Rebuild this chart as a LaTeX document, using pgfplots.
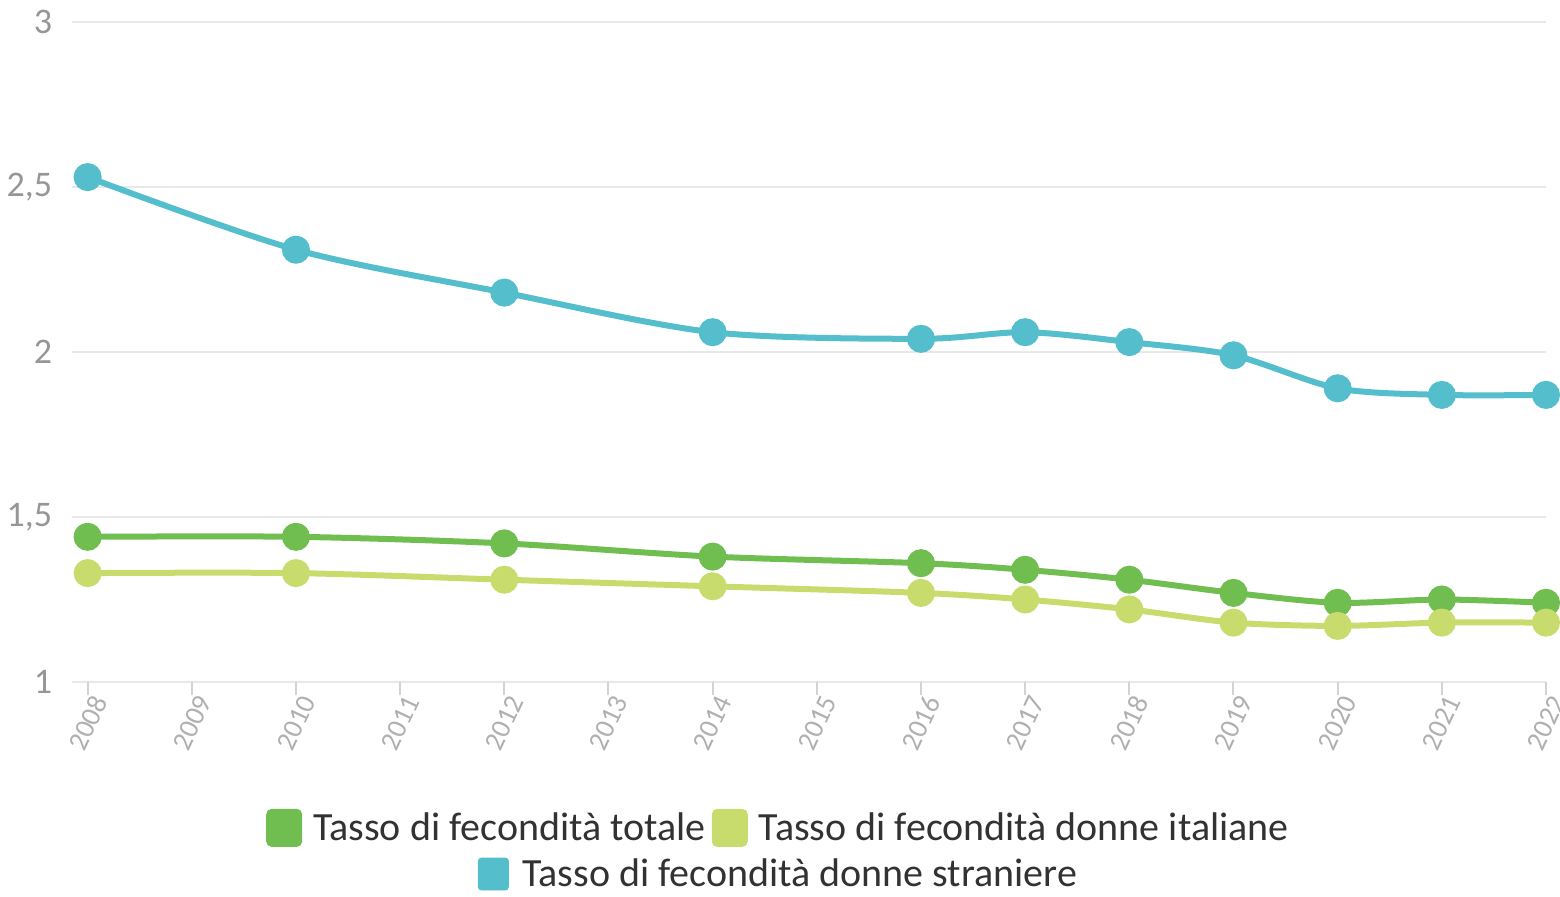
\documentclass[border=0pt]{standalone}
\usepackage{pgfplots}
\pgfplotsset{compat=1.18}
\usepackage{fontspec}
\setmainfont{Carlito}
\definecolor{teal1}{RGB}{84,190,204}
\definecolor{green1}{RGB}{112,190,80}
\definecolor{lime1}{RGB}{200,220,110}
\definecolor{gridgray}{RGB}{232,232,232}
\definecolor{labgray}{RGB}{150,150,150}
\definecolor{txt}{RGB}{50,50,50}

\pgfplotsset{
  sq legend/.style={legend image code/.code={
    \fill[##1, rounded corners=1.5pt] (0pt,-8pt) rectangle (15pt,8pt);
    \path[draw=none] (0pt,0pt) -- (20pt,0pt);}},
  leg/.style={draw=none, fill=none, text=txt, font=\fontsize{20}{24}\selectfont,
    anchor=center, legend cell align=left,
    /tikz/every even column/.append style={column sep=1pt}},
}

\begin{document}
\begin{tikzpicture}
\useasboundingbox (0,0) rectangle (780pt,448pt);
\begin{axis}[
  at={(36pt,107pt)}, anchor=south west,
  scale only axis, width=737pt, height=330pt,
  xmin=2007.85, xmax=2022, ymin=1, ymax=3,
  clip=false,
  axis line style={draw=none},
  ymajorgrids=true, grid style={gridgray, line width=1pt},
  ytick={1,1.5,2,2.5,3},
  ytick style={draw=none},
  xtick={2008,...,2022},
  xtick pos=bottom, tick align=outside,
  major tick length=6.5pt,
  x tick style={gridgray!80!gray, line width=1pt},
  /pgf/number format/assume math mode=true,
  /pgf/number format/use comma,
  /pgf/number format/1000 sep={},
  yticklabel style={font=\fontsize{18}{20}\selectfont, text=labgray},
  xticklabel style={font=\fontsize{14}{16}\selectfont, text=labgray!75,
    rotate=65, anchor=east, xshift=5pt, yshift=-6pt},
  legend style={leg, at={(0.48,-0.221)}},
  legend columns=2,
  sq legend,
  every axis plot/.append style={line width=3pt, smooth, mark=*, mark size=5.5pt},
]
% totale
\addplot[color=green1] coordinates {
  (2008,1.44)(2010,1.44)(2012,1.42)(2014,1.38)(2016,1.36)(2017,1.34)
  (2018,1.31)(2019,1.27)(2020,1.24)(2021,1.25)(2022,1.24)
};\addlegendentry{Tasso di fecondità totale}
% italiane
\addplot[color=lime1] coordinates {
  (2008,1.33)(2010,1.33)(2012,1.31)(2014,1.29)(2016,1.27)(2017,1.25)
  (2018,1.22)(2019,1.18)(2020,1.17)(2021,1.18)(2022,1.18)
};\addlegendentry{Tasso di fecondità donne italiane}
% straniere
\addplot[color=teal1, forget plot] coordinates {
  (2008,2.53)(2010,2.31)(2012,2.18)(2014,2.06)(2016,2.04)(2017,2.06)
  (2018,2.03)(2019,1.99)(2020,1.89)(2021,1.87)(2022,1.87)
};
\end{axis}
\begin{axis}[
  at={(36pt,107pt)}, anchor=south west,
  scale only axis, width=737pt, height=330pt,
  xmin=2007.85, xmax=2022, ymin=1, ymax=3,
  hide axis,
  legend style={leg, at={(0.48,-0.291)}},
  sq legend,
]
\addlegendimage{teal1}
\addlegendentry{Tasso di fecondità donne straniere}
\end{axis}
\end{tikzpicture}
\end{document}
